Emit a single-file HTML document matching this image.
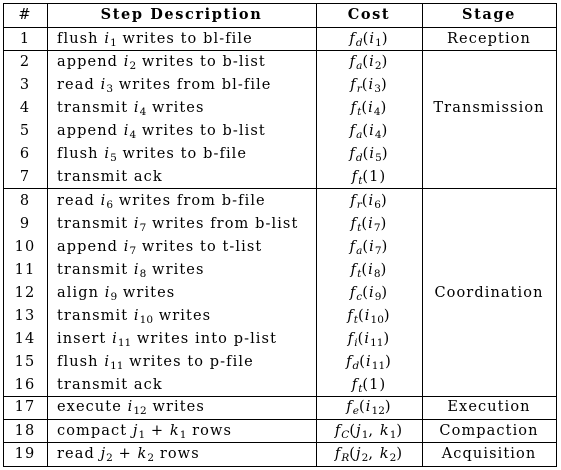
<!DOCTYPE html>
<html><head><meta charset="utf-8"><style>
body{margin:0;width:561px;height:470px;background:#fff;position:relative;overflow:hidden;font-family:"DejaVu Serif",serif;font-size:14.5px;color:#000}
.h{position:absolute;height:1px;background:#000;left:3px;width:554px}
.v{position:absolute;width:1px;background:#000;top:3px;height:464px}
.t{position:absolute;white-space:nowrap;line-height:20px;transform:translateY(-10px);letter-spacing:1.1px}
.c{text-align:center}
i{font-style:italic}
sub{font-size:10.5px;vertical-align:-3px;line-height:0;letter-spacing:0}
b{font-weight:bold;letter-spacing:1.6px}
</style></head><body>
<div class="h" style="top:3px"></div>
<div class="h" style="top:27px"></div>
<div class="h" style="top:50px"></div>
<div class="h" style="top:188px"></div>
<div class="h" style="top:396px"></div>
<div class="h" style="top:419px"></div>
<div class="h" style="top:442px"></div>
<div class="h" style="top:466px"></div>
<div class="v" style="left:3px"></div>
<div class="v" style="left:47px"></div>
<div class="v" style="left:316px"></div>
<div class="v" style="left:422px"></div>
<div class="v" style="left:556px"></div>
<div id="cells"></div>
<script>
const nums=["1","2","3","4","5","6","7","8","9","10","11","12","13","14","15","16","17","18","19"];
const descs=["flush <i>i</i><sub>1</sub> writes to bl-file","append <i>i</i><sub>2</sub> writes to b-list","read <i>i</i><sub>3</sub> writes from bl-file","transmit <i>i</i><sub>4</sub> writes","append <i>i</i><sub>4</sub> writes to b-list","flush <i>i</i><sub>5</sub> writes to b-file","transmit ack","read <i>i</i><sub>6</sub> writes from b-file","transmit <i>i</i><sub>7</sub> writes from b-list","append <i>i</i><sub>7</sub> writes to t-list","transmit <i>i</i><sub>8</sub> writes","align <i>i</i><sub>9</sub> writes","transmit <i>i</i><sub>10</sub> writes","insert <i>i</i><sub>11</sub> writes into p-list","flush <i>i</i><sub>11</sub> writes to p-file","transmit ack","execute <i>i</i><sub>12</sub> writes","compact <i>j</i><sub>1</sub> + <i>k</i><sub>1</sub> rows","read <i>j</i><sub>2</sub> + <i>k</i><sub>2</sub> rows"];
const costs=["d(<i>i</i><sub>1</sub>)","a(<i>i</i><sub>2</sub>)","r(<i>i</i><sub>3</sub>)","t(<i>i</i><sub>4</sub>)","a(<i>i</i><sub>4</sub>)","d(<i>i</i><sub>5</sub>)","t(1)","r(<i>i</i><sub>6</sub>)","t(<i>i</i><sub>7</sub>)","a(<i>i</i><sub>7</sub>)","t(<i>i</i><sub>8</sub>)","c(<i>i</i><sub>9</sub>)","t(<i>i</i><sub>10</sub>)","i(<i>i</i><sub>11</sub>)","d(<i>i</i><sub>11</sub>)","t(1)","e(<i>i</i><sub>12</sub>)","C(<i>j</i><sub>1</sub>, <i>k</i><sub>1</sub>)","R(<i>j</i><sub>2</sub>, <i>k</i><sub>2</sub>)"];
const rowY=[39,62,85,108,131,154,177,201,224,247,270,293,316,339,362,385,407,431,454];
const stages=[["Reception",39],["Transmission",108],["Coordination",293],["Execution",407],["Compaction",431],["Acquisition",454]];
const box=document.getElementById('cells');
function add(html,x,y,w,cls,name){const d=document.createElement('div');d.className='t '+cls;d.innerHTML=html;d.style.left=x+'px';d.style.top=y+'px';if(w)d.style.width=w+'px';


box.appendChild(d);}
add('#',3,15,44,'c','header-number');
add('<b>Step Description</b>',47,15,269,'c','header-step-description');
add('<b>Cost</b>',316,15,106,'c','header-cost');
add('<b>Stage</b>',422,15,134,'c','header-stage');
for(let k=0;k<nums.length;k++){
 const p=costs[k];const sub=p.match(/^([A-Za-z])/)[1];
 add(nums[k],3,rowY[k],44,'c','step-number');
 add(descs[k],57,rowY[k],0,'','step-description');
 add('<i>f</i><sub><i>'+sub+'</i></sub>'+p.slice(1),316,rowY[k],106,'c','step-cost');
}
stages.forEach(s=>add(s[0],422,s[1],134,'c','stage-label'));
</script>
</body></html>
